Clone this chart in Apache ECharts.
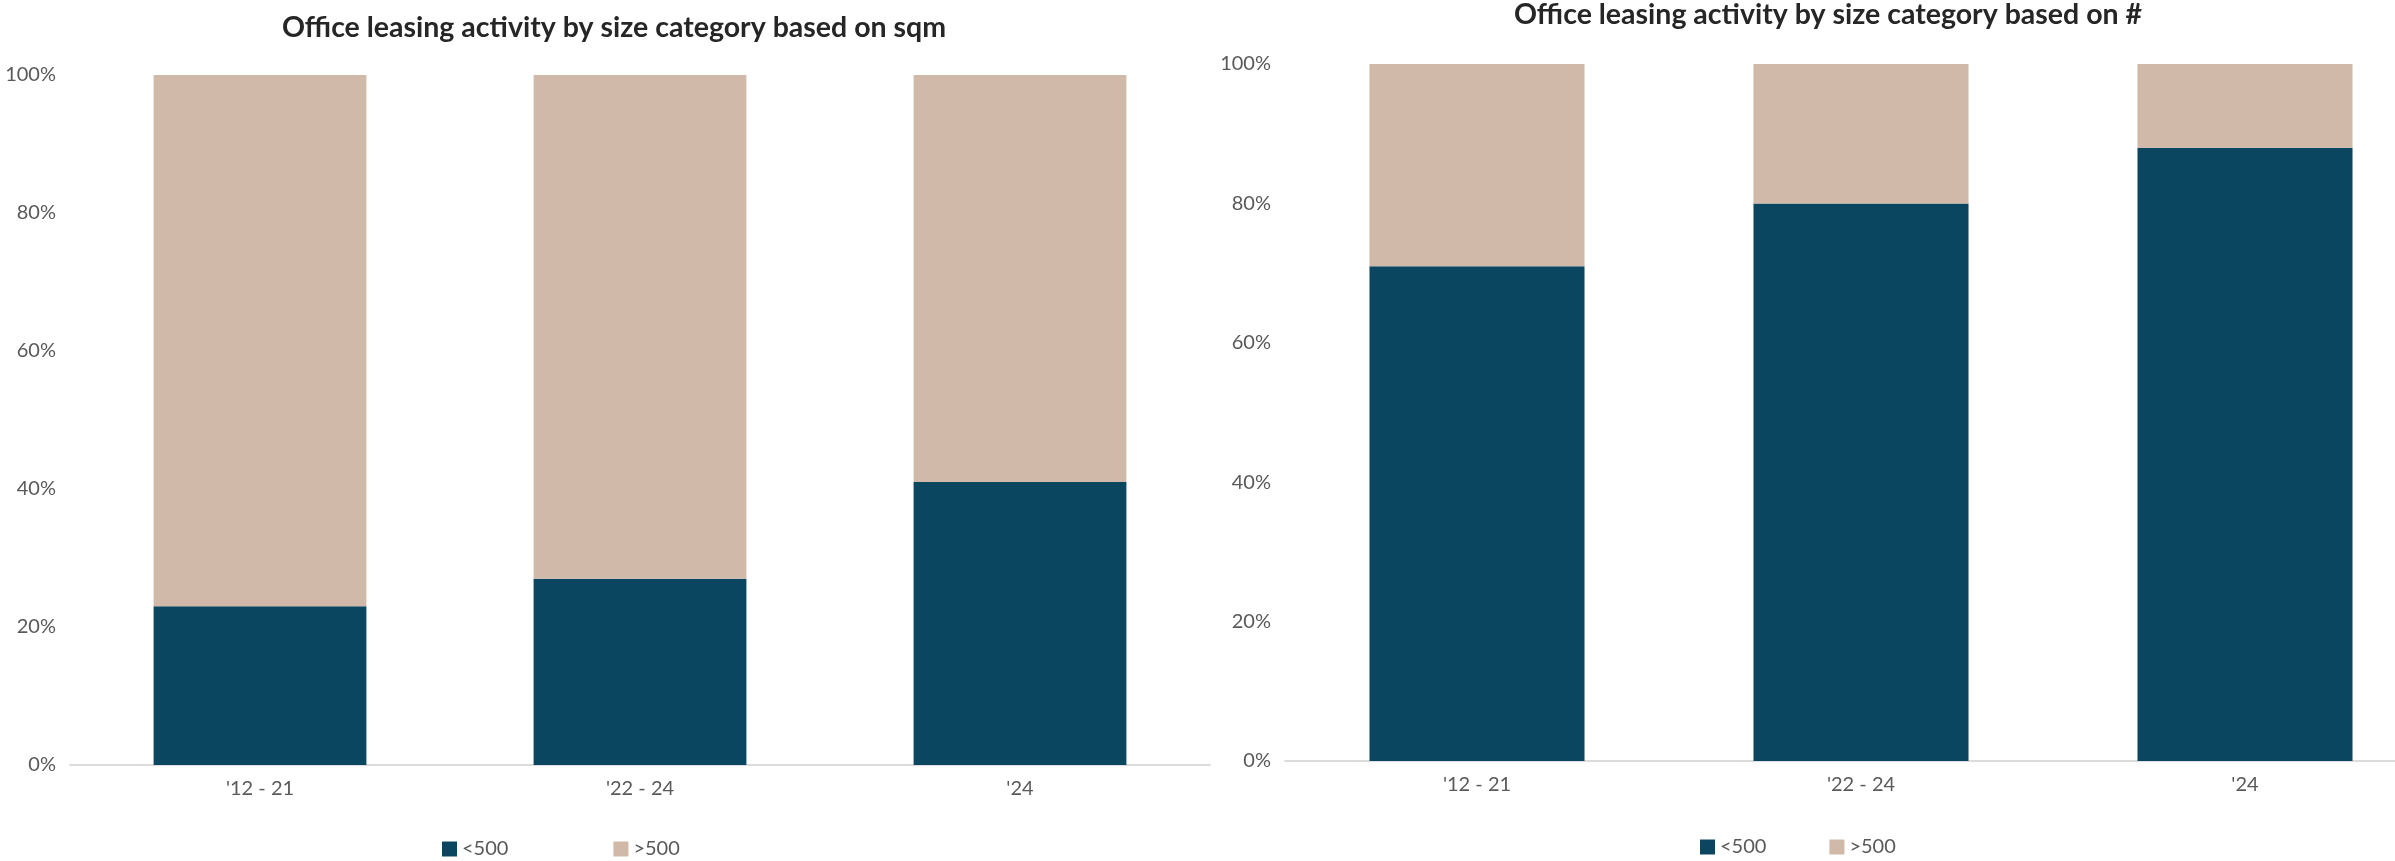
<!DOCTYPE html>
<html>
<head>
<meta charset="utf-8">
<script src="https://cdn.jsdelivr.net/npm/echarts@6/dist/echarts.min.js"></script>
<style>
html,body{margin:0;padding:0;background:#fff;overflow:hidden;width:2395px;height:861px;}
#c{width:2440px;height:861px;}
</style>
</head>
<body>
<div id="c"></div>
<script>
const categories = ["'12 - 21", "'22 - 24", "'24"];
const seriesNames = ['<500', '>500'];
const sqmSmall = [23, 27, 41];
const sqmLarge = [77, 73, 59];
const countSmall = [71, 80, 88];
const countLarge = [29, 20, 12];
const titles = ['Office leasing activity by size category based on sqm', 'Office leasing activity by size category based on #'];
const yTicks = [0, 20, 40, 60, 80, 100];

const DARK = '#0A4660';
const TAN = '#D0B9A8';
const FONT = 'Lato';
const TXT = '#595959';

const chart = echarts.init(document.getElementById('c'));

function xAxis(gridIndex){
  return {
    type: 'category', gridIndex, data: categories,
    axisLine: {lineStyle: {color: '#dcdcdc', width: 2}},
    axisTick: {show: false},
    axisLabel: {color: TXT, fontFamily: FONT, fontSize: 20, margin: 14}
  };
}
function yAxis(gridIndex){
  return {
    type: 'value', gridIndex, min: yTicks[0], max: yTicks[yTicks.length-1], interval: yTicks[1]-yTicks[0],
    axisLine: {show: false}, axisTick: {show: false}, splitLine: {show: false},
    axisLabel: {color: TXT, fontFamily: FONT, fontSize: 20, margin: 14, formatter: '{value}%'}
  };
}
function legend(left, top, gap){
  return {
    left, top, padding: 0, itemGap: gap, itemWidth: 15, itemHeight: 15,
    icon: 'rect', data: seriesNames,
    textStyle: {color: TXT, fontFamily: FONT, fontSize: 20}
  };
}
function bar(name, data, idx, stack, color){
  return {
    name, type: 'bar', stack, data, xAxisIndex: idx, yAxisIndex: idx,
    barWidth: '56%', itemStyle: {color}, emphasis: {disabled: true}
  };
}

chart.setOption({
  animation: false,
  title: [
    {text: titles[0], left: 614, top: 13, textAlign: 'center', padding: 0,
     textStyle: {fontFamily: FONT, fontWeight: 'bold', fontSize: 28.5, color: '#262626'}},
    {text: titles[1], left: 1828, top: 0, textAlign: 'center', padding: 0,
     textStyle: {fontFamily: FONT, fontWeight: 'bold', fontSize: 28.5, color: '#262626'}}
  ],
  legend: [legend(442, 839, 105), legend(1700, 837, 63)],
  grid: [
    {left: 70, top: 75, width: 1140, height: 690},
    {left: 1285, top: 64, width: 1152, height: 697}
  ],
  xAxis: [xAxis(0), xAxis(1)],
  yAxis: [yAxis(0), yAxis(1)],
  series: [
    bar(seriesNames[0], sqmSmall, 0, 'a', DARK),
    bar(seriesNames[1], sqmLarge, 0, 'a', TAN),
    bar(seriesNames[0], countSmall, 1, 'b', DARK),
    bar(seriesNames[1], countLarge, 1, 'b', TAN)
  ]
});
</script>
</body>
</html>
